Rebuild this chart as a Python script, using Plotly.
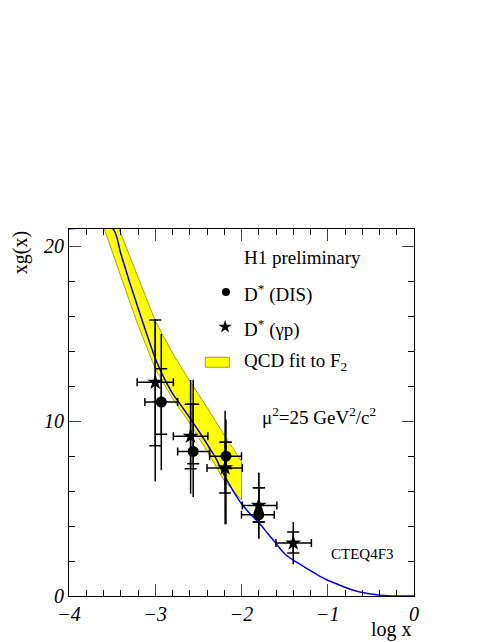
import plotly.graph_objects as go

# D* DIS
dis_x = [-2.93, -2.56, -2.18, -1.80]
dis_y = [11.1, 8.27, 8.0, 4.65]
dis_xlo = [0.19, 0.18, 0.19, 0.20]
dis_xhi = [0.19, 0.19, 0.18, 0.18]
dis_tot_up = [3.9, 4.1, 2.1, 2.4]
dis_tot_dn = [3.9, 2.6, 3.9, 1.37]
dis_stat_up = [1.9, 2.7, 0.8, 1.55]
dis_stat_dn = [1.85, 0.7, 0.7, 0.42]
# D* gamma p
gp_x = [-3.0, -2.59, -2.19, -1.80, -1.40]
gp_y = [12.23, 9.14, 7.33, 5.18, 3.03]
gp_xlo = [0.21, 0.20, 0.21, 0.19, 0.20]
gp_xhi = [0.21, 0.20, 0.20, 0.21, 0.21]
gp_tot_up = [3.62, 3.22, 3.27, 1.87, 1.2]
gp_tot_dn = [5.68, 3.29, 3.23, 1.88, 1.22]
gp_stat_up = [3.57, 1.83, 1.47, 1.02, 0.63]
gp_stat_dn = [3.63, 1.86, 1.43, 0.95, 0.57]
# QCD fit band
band_hi_x = [-3.42, -3.2, -3.0, -2.8, -2.6, -2.4, -2.2, -2.0]
band_hi = [21.0, 18.2, 15.75, 13.9, 12.3, 10.8, 9.2, 7.7]
band_lo_x = [-3.59, -3.4, -3.2, -3.0, -2.8, -2.6, -2.4, -2.2, -2.0]
band_lo = [21.0, 18.3, 15.5, 13.0, 11.3, 9.9, 8.3, 6.6, 5.5]
# CTEQ4F3 curve
cteq_x = [-4.0, -3.49, -3.4, -3.3, -3.2, -3.1, -3.0, -2.9, -2.8, -2.7, -2.6, -2.5, -2.4, -2.3, -2.2, -2.1, -2.0, -1.9, -1.8,
          -1.7, -1.6, -1.5, -1.4, -1.3, -1.2, -1.1, -1.0, -0.9, -0.8, -0.7, -0.6, -0.5, -0.4, -0.3, -0.2, 0.0]
cteq_y = [21.0, 21.0, 19.6, 18.0, 16.5, 15.0, 13.6, 12.5, 11.6, 10.9, 10.2, 9.47, 8.7, 7.9, 6.9, 6.05, 5.28, 4.7, 4.2,
          3.6, 3.0, 2.42, 2.05, 1.75, 1.45, 1.15, 0.9, 0.7, 0.5, 0.33, 0.2, 0.11, 0.05, 0.015, 0.0, 0.0]

FONT = "Liberation Serif"
fig = go.Figure()

bx = band_hi_x + band_lo_x[::-1]
by = band_hi + band_lo[::-1]
fig.add_trace(go.Scatter(x=bx, y=by, fill="toself", fillcolor="#ffff00",
                         line=dict(color="#8a8a00", width=0.8), mode="lines", hoverinfo="skip"))
fig.add_trace(go.Scatter(x=cteq_x, y=cteq_y, mode="lines", line=dict(color="#0000ff", width=1.5, shape="spline", smoothing=0.6)))

def pts(x, y, xlo, xhi, tu, td, su, sd, sym, size):
    fig.add_trace(go.Scatter(x=x, y=y, mode="markers", marker=dict(size=0.1, color="black"),
        error_y=dict(type="data", symmetric=False, array=tu, arrayminus=td, color="black", thickness=1.5, width=0)))
    fig.add_trace(go.Scatter(x=x, y=y, mode="markers", marker=dict(symbol=sym, size=size, color="black"),
        error_x=dict(type="data", symmetric=False, array=xhi, arrayminus=xlo, color="black", thickness=1.5, width=4),
        error_y=dict(type="data", symmetric=False, array=su, arrayminus=sd, color="black", thickness=1.5, width=6)))

pts(dis_x, dis_y, dis_xlo, dis_xhi, dis_tot_up, dis_tot_dn, dis_stat_up, dis_stat_dn, "circle", 11)
pts(gp_x, gp_y, gp_xlo, gp_xhi, gp_tot_up, gp_tot_dn, gp_stat_up, gp_stat_dn, "star", 12)

# legend markers
fig.add_trace(go.Scatter(x=[-2.18], y=[17.4], mode="markers", marker=dict(symbol="circle", size=8, color="black")))
fig.add_trace(go.Scatter(x=[-2.19], y=[15.4], mode="markers", marker=dict(symbol="star", size=10, color="black")))
fig.add_shape(type="rect", x0=-2.42, x1=-2.14, y0=13.09, y1=13.66, fillcolor="#ffff00", line=dict(color="#8a8a00", width=0.8))

ann = [
    ("H1 preliminary", -1.99, 19.37),
    ("D<sup>*</sup> (DIS)", -1.99, 17.3),
    ("D<sup>*</sup> (γp)", -1.99, 15.33),
    ("QCD fit to F<sub>2</sub>", -1.99, 13.37),
    ("μ<sup>2</sup>=25 GeV<sup>2</sup>/c<sup>2</sup>", -1.79, 10.3),
]
for t, x, y in ann:
    fig.add_annotation(x=x, y=y, text=t, showarrow=False, xanchor="left", font=dict(family=FONT, size=19, color="black"))
fig.add_annotation(x=-0.99, y=2.42, text="CTEQ4F3", showarrow=False, xanchor="left", font=dict(family=FONT, size=15, color="black"))
fig.add_annotation(xref="paper", yref="paper", x=1.0, y=-0.055, text="log x", showarrow=False, xanchor="right", yanchor="top",
                   font=dict(family=FONT, size=20, color="black"))
fig.add_annotation(xref="paper", yref="paper", x=-0.14, y=1.0, text="xg(x)", showarrow=False, textangle=-90, xanchor="center", yanchor="top",
                   font=dict(family=FONT, size=20, color="black"))

fig.update_layout(width=496, height=642, margin=dict(l=61, r=90, t=221, b=54),
                  plot_bgcolor="white", paper_bgcolor="white", showlegend=False,
                  font=dict(family=FONT, size=20, color="black"))
fig.update_xaxes(range=[-4, 0], tickvals=[-4, -3, -2, -1, 0], ticks="inside", ticklen=12, showgrid=False, zeroline=False,
                 showline=True, linecolor="black", mirror="allticks", linewidth=1, automargin=False,
                 minor=dict(ticks="inside", dtick=0.2, ticklen=6, tickcolor="black"),
                 tickfont=dict(family=FONT, size=20, style="italic"))
fig.update_yaxes(range=[0, 21], tickvals=[0, 10, 20], ticks="inside", ticklen=12, showgrid=False, zeroline=False,
                 showline=True, linecolor="black", mirror="allticks", linewidth=1, automargin=False,
                 minor=dict(ticks="inside", dtick=2, ticklen=6, tickcolor="black"),
                 tickfont=dict(family=FONT, size=20, style="italic"))
fig.write_html("out.html")
